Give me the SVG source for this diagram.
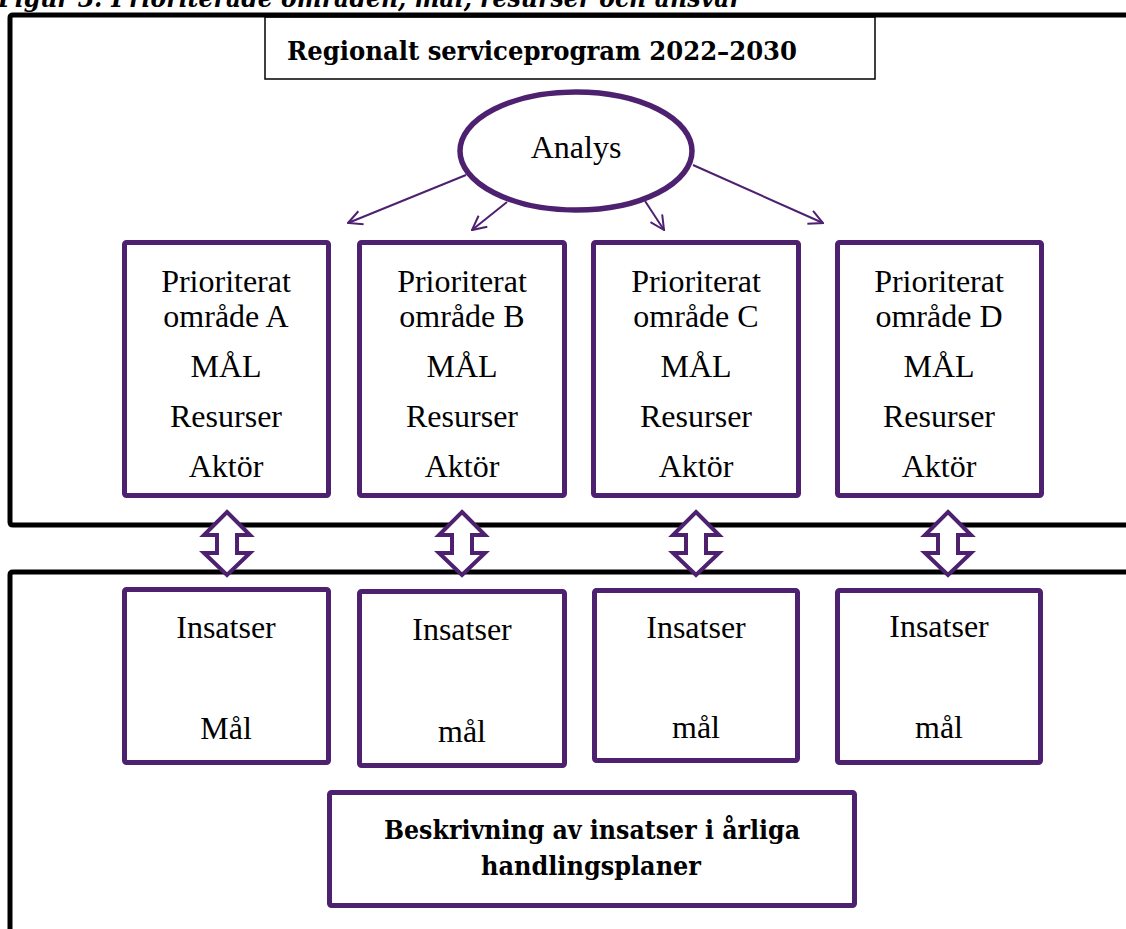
<svg xmlns="http://www.w3.org/2000/svg" width="1126" height="929" viewBox="0 0 1126 929">
<style>
  .frame{fill:none;stroke:#000;stroke-width:5;stroke-linejoin:round}
  .box{fill:#fff;stroke:#4e2170;stroke-width:5}
  .dbl{fill:#fff;stroke:#4e2170;stroke-width:4;stroke-linejoin:miter}
  .conn{fill:none;stroke:#4e2170;stroke-width:2}
  .t{font-family:"Liberation Serif","Times New Roman",serif;font-size:32px;fill:#000;text-anchor:middle}
  .b{font-family:"DejaVu Serif","Liberation Serif",serif;font-weight:bold;font-size:26.5px;fill:#000;text-anchor:middle}
  .cap{font-family:"DejaVu Serif","Liberation Serif",serif;font-weight:bold;font-style:italic;font-size:26px;fill:#000}
</style>
<defs>
  <marker id="ah" viewBox="0 0 16 16" refX="15" refY="8" markerWidth="16" markerHeight="16" markerUnits="userSpaceOnUse" orient="auto">
    <path d="M1,1 L15,8 L1,15" fill="none" stroke="#4e2170" stroke-width="2"/>
  </marker>
</defs>
<rect width="1126" height="929" fill="#fff"/>
<text class="cap" x="-2" y="7" textLength="744" lengthAdjust="spacingAndGlyphs">Figur 3: Prioriterade områden, mål, resurser och ansvar</text>

<g id="title">
  <rect x="265" y="17" width="610" height="62" fill="#fff" stroke="#000" stroke-width="1.5"/>
  <text class="b" x="542" y="60" textLength="510" lengthAdjust="spacingAndGlyphs">Regionalt serviceprogram 2022–2030</text>
</g>
<g id="frames">
  <path class="frame" d="M1130,15 H13 Q10,15 10,18 V522 Q10,525 13,525 H1130"/>
  <path class="frame" d="M1130,572 H13 Q10,572 10,575 V935"/>
</g>

<g id="analys">
  <ellipse cx="576" cy="151" rx="116" ry="59" fill="#fff" stroke="#4e2170" stroke-width="5.5"/>
  <text class="t" x="576" y="158">Analys</text>
</g>

<g id="connectors">
  <line class="conn" x1="466" y1="175" x2="348" y2="223" marker-end="url(#ah)"/>
  <line class="conn" x1="507" y1="202" x2="472" y2="230" marker-end="url(#ah)"/>
  <line class="conn" x1="645" y1="201" x2="664" y2="230" marker-end="url(#ah)"/>
  <line class="conn" x1="693" y1="165" x2="823" y2="223" marker-end="url(#ah)"/>
</g>

<g id="omrA">
  <rect class="box" x="124.5" y="242.5" width="204" height="253" rx="2"/>
  <text class="t" x="226" y="292">Prioriterat</text>
  <text class="t" x="226" y="327">område A</text>
  <text class="t" x="226" y="377">MÅL</text>
  <text class="t" x="226" y="427">Resurser</text>
  <text class="t" x="226" y="477">Aktör</text>
</g>
<g id="omrB">
  <rect class="box" x="359.5" y="242.5" width="205" height="253" rx="2"/>
  <text class="t" x="462" y="292">Prioriterat</text>
  <text class="t" x="462" y="327">område B</text>
  <text class="t" x="462" y="377">MÅL</text>
  <text class="t" x="462" y="427">Resurser</text>
  <text class="t" x="462" y="477">Aktör</text>
</g>
<g id="omrC">
  <rect class="box" x="593.5" y="242.5" width="205" height="253" rx="2"/>
  <text class="t" x="696" y="292">Prioriterat</text>
  <text class="t" x="696" y="327">område C</text>
  <text class="t" x="696" y="377">MÅL</text>
  <text class="t" x="696" y="427">Resurser</text>
  <text class="t" x="696" y="477">Aktör</text>
</g>
<g id="omrD">
  <rect class="box" x="837.5" y="242.5" width="204" height="253" rx="2"/>
  <text class="t" x="939" y="292">Prioriterat</text>
  <text class="t" x="939" y="327">område D</text>
  <text class="t" x="939" y="377">MÅL</text>
  <text class="t" x="939" y="427">Resurser</text>
  <text class="t" x="939" y="477">Aktör</text>
</g>

<g id="dblarrows">
  <polygon class="dbl" points="227,512 250,535 237,535 237,553 250,553 227,575 204,553 217,553 217,535 204,535"/>
  <polygon class="dbl" points="462,512 485,535 472,535 472,553 485,553 462,575 439,553 452,553 452,535 439,535"/>
  <polygon class="dbl" points="696,512 719,535 706,535 706,553 719,553 696,575 673,553 686,553 686,535 673,535"/>
  <polygon class="dbl" points="948,512 971,535 958,535 958,553 971,553 948,575 925,553 938,553 938,535 925,535"/>
</g>

<g id="insA">
  <rect class="box" x="124.5" y="589.5" width="204" height="173" rx="2"/>
  <text class="t" x="226" y="638">Insatser</text>
  <text class="t" x="226" y="739">Mål</text>
</g>
<g id="insB">
  <rect class="box" x="359.5" y="591.5" width="205" height="174" rx="2"/>
  <text class="t" x="462" y="640">Insatser</text>
  <text class="t" x="462" y="742">mål</text>
</g>
<g id="insC">
  <rect class="box" x="594.5" y="590.5" width="203" height="170" rx="2"/>
  <text class="t" x="696" y="638">Insatser</text>
  <text class="t" x="696" y="738">mål</text>
</g>
<g id="insD">
  <rect class="box" x="837.5" y="590.5" width="203" height="172" rx="2"/>
  <text class="t" x="939" y="637">Insatser</text>
  <text class="t" x="939" y="738">mål</text>
</g>

<g id="beskrivning">
  <rect class="box" x="329.5" y="792.5" width="525" height="113" rx="2"/>
  <text class="b" x="592" y="839" textLength="416" lengthAdjust="spacingAndGlyphs">Beskrivning av insatser i årliga</text>
  <text class="b" x="591" y="875" textLength="220" lengthAdjust="spacingAndGlyphs">handlingsplaner</text>
</g>
</svg>
